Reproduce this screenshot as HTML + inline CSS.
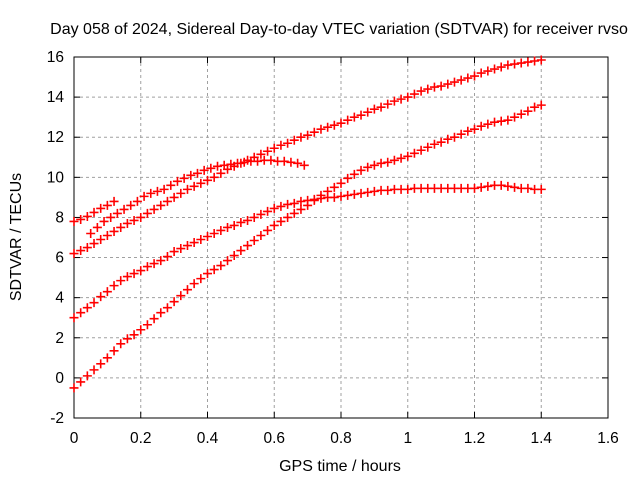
<!DOCTYPE html>
<html><head><meta charset="utf-8"><style>
body{margin:0;background:#fff}
svg{display:block;font-family:"Liberation Sans",sans-serif}
</style></head><body>
<svg id="chart" width="640" height="480" viewBox="0 0 640 480">
<rect width="640" height="480" fill="#fff"/>
<text x="339" y="34" font-size="16" text-anchor="middle">Day 058 of 2024, Sidereal Day-to-day VTEC variation (SDTVAR) for receiver rvso</text>
<g id="grid"></g>
<g id="axes"></g>
<g id="series"></g>
<text x="340" y="471" font-size="16" text-anchor="middle">GPS time / hours</text>
<text transform="translate(21,237) rotate(-90)" font-size="16" text-anchor="middle">SDTVAR / TECUs</text>
</svg>
<script>
const xTicks=[0,0.2,0.4,0.6,0.8,1,1.2,1.4,1.6];
const xTickLabels=["0","0.2","0.4","0.6","0.8","1","1.2","1.4","1.6"];
const yTicks=[-2,0,2,4,6,8,10,12,14,16];
const yTickLabels=["-2","0","2","4","6","8","10","12","14","16"];
const timesA=[0,0.02,0.04,0.06,0.08,0.10,0.12];
const valuesA=[7.8,7.9,8.05,8.25,8.45,8.6,8.8];
const timesB=[0.05,0.07,0.09,0.11,0.13,0.15,0.17,0.19,0.21,0.23,0.25,0.27,0.29,0.31,0.33,0.35,0.37,0.39,0.41,0.43,0.45,0.47,0.49,0.51,0.53,0.55,0.57,0.59,0.61,0.63,0.65,0.67,0.69];
const valuesB=[7.2,7.5,7.8,8.0,8.2,8.4,8.6,8.8,9.05,9.2,9.3,9.4,9.6,9.8,9.95,10.1,10.2,10.35,10.45,10.55,10.6,10.65,10.7,10.75,10.8,10.8,10.85,10.85,10.8,10.8,10.75,10.7,10.6];
const valuesC=[6.2,6.35,6.5,6.7,6.9,7.1,7.3,7.5,7.7,7.85,8.0,8.2,8.4,8.6,8.8,9.0,9.2,9.4,9.55,9.7,9.85,10.0,10.2,10.4,10.55,10.7,10.85,11.0,11.15,11.3,11.45,11.6,11.7,11.85,12.0,12.1,12.25,12.4,12.5,12.6,12.7,12.85,13.0,13.1,13.25,13.4,13.5,13.65,13.8,13.9,14.0,14.15,14.3,14.4,14.5,14.55,14.65,14.75,14.85,14.95,15.05,15.2,15.3,15.4,15.5,15.6,15.65,15.7,15.75,15.8,15.85];
const valuesD=[3.0,3.25,3.5,3.75,4.05,4.3,4.6,4.85,5.05,5.2,5.35,5.55,5.7,5.85,6.05,6.3,6.45,6.6,6.75,6.9,7.05,7.2,7.35,7.5,7.6,7.75,7.85,8.0,8.15,8.3,8.45,8.55,8.65,8.7,8.8,8.85,8.9,8.95,9.0,9.0,9.05,9.1,9.15,9.2,9.25,9.3,9.35,9.35,9.4,9.4,9.4,9.45,9.45,9.45,9.45,9.45,9.45,9.45,9.45,9.45,9.45,9.5,9.55,9.6,9.6,9.55,9.5,9.45,9.45,9.4,9.4];
const valuesE=[-0.5,-0.2,0.1,0.4,0.7,1.0,1.35,1.7,1.95,2.15,2.4,2.65,2.95,3.25,3.5,3.8,4.1,4.4,4.7,4.95,5.2,5.4,5.6,5.85,6.1,6.35,6.6,6.85,7.1,7.35,7.6,7.8,8.0,8.2,8.4,8.6,8.85,9.1,9.3,9.5,9.7,9.95,10.15,10.35,10.5,10.6,10.7,10.75,10.85,10.95,11.05,11.2,11.35,11.5,11.65,11.75,11.9,12.0,12.15,12.3,12.4,12.55,12.65,12.75,12.8,12.85,13.0,13.15,13.3,13.5,13.6];
const timesStep=valuesC.map((_,i)=>i*0.02);

const X0=74,X1=608,Y0=418,Y1=57;
const xs=v=>X0+(v-0)/(1.6-0)*(X1-X0);
const ys=v=>Y0-(v+2)/(18)*(Y0-Y1);
const NS="http://www.w3.org/2000/svg";
function mk(tag,attrs,parent){const e=document.createElementNS(NS,tag);for(const k in attrs)e.setAttribute(k,attrs[k]);parent.appendChild(e);return e;}
const grid=document.getElementById('grid'),axes=document.getElementById('axes'),ser=document.getElementById('series');
xTicks.forEach((t,i)=>{
  const x=xs(t);
  if(i>0&&i<xTicks.length-1){const g=mk('line',{x1:x,x2:x,y1:Y1,y2:Y0,stroke:'#a0a0a0','stroke-dasharray':'3,3'},grid);
  
  }
  mk('line',{x1:x,x2:x,y1:Y0,y2:Y0-6,stroke:'#000'},axes);
  mk('line',{x1:x,x2:x,y1:Y1,y2:Y1+6,stroke:'#000'},axes);
  const tx=mk('text',{x:x,y:Y0+25,'font-size':'15.5','text-anchor':'middle'},axes);
  tx.textContent=xTickLabels[i];
  
  
});
yTicks.forEach((t,i)=>{
  const y=ys(t);
  if(i>0&&i<yTicks.length-1){const g=mk('line',{x1:X0,x2:X1,y1:y,y2:y,stroke:'#a0a0a0','stroke-dasharray':'3,3'},grid);
  
  }
  mk('line',{x1:X0,x2:X0+6,y1:y,y2:y,stroke:'#000'},axes);
  mk('line',{x1:X1,x2:X1-6,y1:y,y2:y,stroke:'#000'},axes);
  const tx=mk('text',{x:X0-10,y:y+5,'font-size':'15.5','text-anchor':'end'},axes);
  tx.textContent=yTickLabels[i];
  
  
});
const frame=mk('rect',{x:X0,y:Y1,width:X1-X0,height:Y0-Y1,fill:'none',stroke:'#000'},axes);


function drawSeries(times,vals,name){
  const g=mk('g',{stroke:'#ff0000','stroke-width':'1.6'},ser);
  
  
  vals.forEach((v,i)=>{const x=xs(times[i]),y=ys(v);
    const p=mk('path',{d:`M${x-4.5},${y}H${x+4.5}M${x},${y-4.5}V${y+4.5}`},g);
    
    
  });
}
drawSeries(timesA,valuesA,'series-a');
drawSeries(timesB,valuesB,'series-b');
drawSeries(timesStep,valuesC,'series-c');
drawSeries(timesStep,valuesD,'series-d');
drawSeries(timesStep,valuesE,'series-e');
</script>
</body></html>
